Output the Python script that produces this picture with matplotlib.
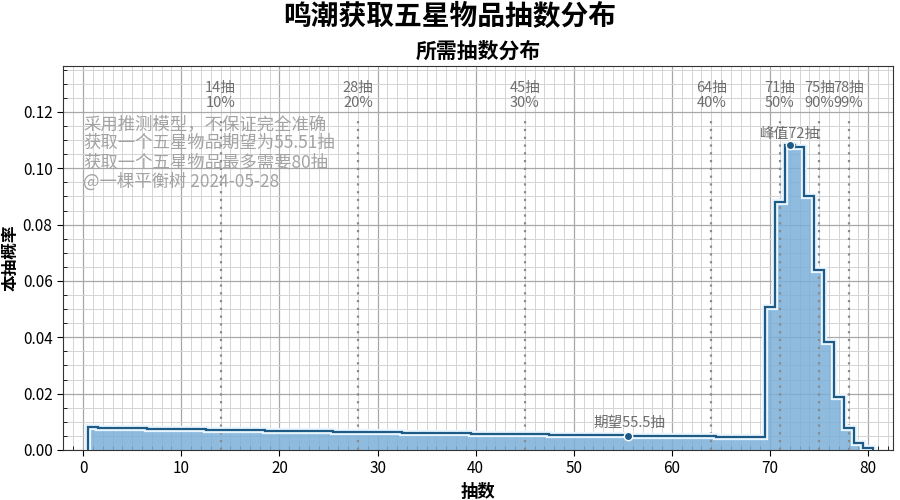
import numpy as np
import matplotlib
matplotlib.use("Agg")
import matplotlib.pyplot as plt
import matplotlib.patheffects as pe
from matplotlib.ticker import MultipleLocator

plt.rcParams['font.family'] = ['Noto Sans CJK SC', 'DejaVu Sans']

# ---------------- data ----------------
pulls = np.arange(1, 81)
probs = [0.00800, 0.00794, 0.00787, 0.00781, 0.00775, 0.00769, 0.00762, 0.00756, 0.00750, 0.00744,
         0.00738, 0.00732, 0.00727, 0.00721, 0.00715, 0.00709, 0.00704, 0.00698, 0.00692, 0.00687,
         0.00681, 0.00676, 0.00670, 0.00665, 0.00660, 0.00655, 0.00649, 0.00644, 0.00639, 0.00634,
         0.00629, 0.00624, 0.00619, 0.00614, 0.00609, 0.00604, 0.00599, 0.00594, 0.00590, 0.00585,
         0.00580, 0.00576, 0.00571, 0.00566, 0.00562, 0.00557, 0.00553, 0.00549, 0.00544, 0.00540,
         0.00535, 0.00531, 0.00527, 0.00523, 0.00519, 0.00514, 0.00510, 0.00506, 0.00502, 0.00498,
         0.00494, 0.00490, 0.00486, 0.00482, 0.00479, 0.00475, 0.00471, 0.00467, 0.00463,
         0.0508, 0.0880, 0.1083, 0.1075, 0.0900, 0.0639, 0.0383, 0.0188, 0.0078, 0.0025, 0.0007]

quant_pulls = [14, 28, 45, 64, 71, 75, 78]
quant_labels = ['10%', '20%', '30%', '40%', '50%', '90%', '99%']

peak_pull = 72
mean_pull = 55.51
mean_prob = 0.0051

notes = ['采用推测模型，不保证完全准确',
         '获取一个五星物品期望为55.51抽',
         '获取一个五星物品最多需要80抽',
         '@一棵平衡树 2024-05-28']

line_c = '#1d5a86'
fill_c = '#7bafd9'
gray = '#6e6e6e'

fig = plt.figure(figsize=(9, 5), dpi=100)
ax = fig.add_axes([0.07, 0.1, 0.922, 0.768])

edges = np.arange(0.5, 81.0, 1.0)
ax.stairs(probs, edges, fill=True, color=fill_c, alpha=0.85, zorder=2)
ax.stairs(probs, edges, color=line_c, linewidth=1.6, zorder=4,
          path_effects=[pe.Stroke(linewidth=4.5, foreground='#eaf6ff'), pe.Normal()])

# quantile markers
for q, lab in zip(quant_pulls, quant_labels):
    ax.vlines(q, 0, 0.118, colors='#8a8a8a', linestyles=(0, (1, 2.5)), linewidth=1.6, zorder=3)
    ax.text(q, 0.1208, f'{q}抽\n{lab}', ha='center', va='bottom', fontsize=10.5,
            color=gray, linespacing=1.05)

# peak and mean
peak_val = probs[peak_pull - 1]
ax.plot(peak_pull, peak_val, 'o', color=line_c, markeredgecolor='white', markersize=6, zorder=5)
ax.text(peak_pull, peak_val + 0.0015, f'峰值{peak_pull}抽', ha='center', va='bottom',
        fontsize=10.5, color=gray)
ax.plot(mean_pull, mean_prob, 'o', color=line_c, markeredgecolor='white', markersize=6, zorder=5)
ax.text(mean_pull + 0.2, mean_prob + 0.0019, '期望55.5抽', ha='center', va='bottom',
        fontsize=10.5, color=gray)

ax.text(0, 0.1188, '\n'.join(notes), ha='left', va='top', fontsize=12.5,
        color='#a3a3a3', linespacing=1.07, zorder=6)

ax.set_xlim(-2.05, 82.5)
ax.set_ylim(0, 0.1363)
ax.xaxis.set_major_locator(MultipleLocator(10))
ax.xaxis.set_minor_locator(MultipleLocator(1))
ax.yaxis.set_major_locator(MultipleLocator(0.02))
ax.yaxis.set_minor_locator(MultipleLocator(0.005))
ax.grid(which='major', color='#a8a8a8', linewidth=0.9, zorder=1)
ax.grid(which='minor', color='#d4d4d4', linewidth=0.7, zorder=1)
ax.set_axisbelow(True)
ax.tick_params(which='major', labelsize=11, direction='out', length=4)
ax.tick_params(which='minor', direction='in', length=3)
for s in ax.spines.values():
    s.set_color('#333333')

ax.set_xlabel('抽数', fontsize=12.5, fontweight='bold')
ax.set_ylabel('本抽概率', fontsize=12, fontweight='bold')
ax.yaxis.set_label_coords(-0.052, 0.5)
ax.set_title('所需抽数分布', fontsize=15, fontweight='bold', pad=6)
fig.suptitle('鸣潮获取五星物品抽数分布', fontsize=20, fontweight='bold', y=0.995)

fig.savefig('out.png', dpi=100)
